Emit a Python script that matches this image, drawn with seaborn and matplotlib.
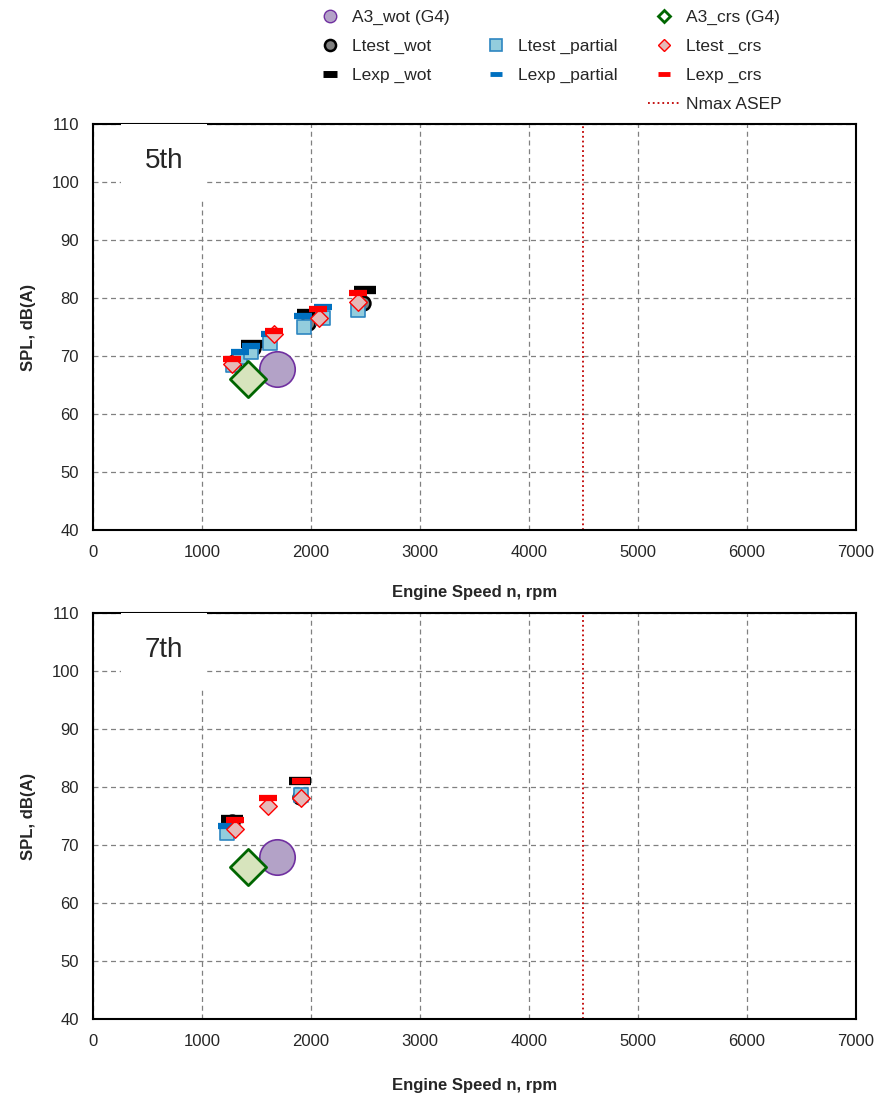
import numpy as np
import pandas as pd
import matplotlib.pyplot as plt
import seaborn as sns
from matplotlib.lines import Line2D

# 5th gear
g5_a3_wot = ([1690], [67.8])
g5_a3_crs = ([1420], [66.0])
g5_ltest_wot = ([1290, 1468, 1972, 2477], [69.0, 71.4, 75.7, 79.1])
g5_lexp_wot = ([1459, 1972, 2495], [72.1, 77.4, 81.4])
g5_ltest_partial = ([1284, 1349, 1450, 1624, 1936, 2110, 2431],
                    [68.4, 69.8, 70.7, 72.2, 75.0, 76.6, 78.0])
g5_lexp_partial = ([1349, 1450, 1624, 1927, 2110], [70.7, 71.7, 73.8, 76.9, 78.4])
g5_ltest_crs = ([1275, 1661, 2073, 2431], [68.6, 73.8, 76.6, 79.3])
g5_lexp_crs = ([1275, 1661, 2064, 2431], [69.5, 74.3, 78.1, 80.9])

# 7th gear
g7_a3_wot = ([1690], [67.9])
g7_a3_crs = ([1422], [66.2])
g7_ltest_wot = ([1272, 1899], [74.0, 78.3])
g7_lexp_wot = ([1272, 1899], [74.5, 81.1])
g7_ltest_partial = ([1229, 1905], [72.1, 78.6])
g7_lexp_partial = ([1226], [73.3])
g7_ltest_crs = ([1303, 1606, 1905], [72.8, 76.7, 78.1])
g7_lexp_crs = ([1303, 1606, 1905], [74.3, 78.1, 81.1])

nmax_asep = 4500
x_ticks = [0, 1000, 2000, 3000, 4000, 5000, 6000, 7000]
y_ticks = [40, 50, 60, 70, 80, 90, 100, 110]

sns.set_style('white')
plt.rcParams['font.family'] = ['Liberation Sans', 'DejaVu Sans']

# marker styles
sty = {
    'Ltest_wot': dict(marker='o', s=100, color='#7F7F7F', edgecolor='black', linewidth=1.8),
    'Lexp_wot': dict(marker='_', s=230, color='black', linewidth=6),
    'Ltest_partial': dict(marker='s', s=110, color='#93CDDD', edgecolor='#2E86C1', linewidth=1.2),
    'Lexp_partial': dict(marker='_', s=170, color='#0070C0', linewidth=4.5),
    'Ltest_crs': dict(marker='D', s=80, color='#E6B9B8', edgecolor='#FF0000', linewidth=1.0),
    'Lexp_crs': dict(marker='_', s=170, color='#FF0000', linewidth=4.5),
    'A3_wot': dict(marker='o', s=650, color='#B3A2C7', edgecolor='#7030A0', linewidth=1.2),
    'A3_crs': dict(marker='D', s=340, color='#D7E4BD', edgecolor='#006600', linewidth=2.0),
}

fig = plt.figure(figsize=(8.79, 10.99), dpi=100)
ax1 = fig.add_axes([0.1058, 0.5177, 0.868, 0.3695])
ax2 = fig.add_axes([0.1058, 0.0728, 0.868, 0.3695])


def draw(ax, series, label):
    for name, (xs, ys) in series:
        sns.scatterplot(x=xs, y=ys, ax=ax, zorder=3, **sty[name])
    ax.axvline(nmax_asep, color='#C00000', linestyle=':', linewidth=1.3, zorder=2)
    ax.set_xlim(0, 7000)
    ax.set_ylim(40, 110)
    ax.set_xticks(x_ticks)
    ax.set_yticks(y_ticks)
    ax.tick_params(labelsize=12, length=0)
    ax.tick_params(axis='x', pad=11)
    ax.tick_params(axis='y', pad=10)
    ax.grid(True, color='#808080', linestyle=(0, (4, 3)), linewidth=0.9)
    for sp in ax.spines.values():
        sp.set_color('black')
        sp.set_linewidth(1.5)
    ax.set_xlabel('Engine Speed n, rpm', fontsize=12, fontweight='bold')
    ax.set_ylabel('SPL, dB(A)', fontsize=12, fontweight='bold', labelpad=11)
    ax.text(650, 103.6, label, fontsize=20, ha='center', va='center', zorder=4,
            bbox=dict(fc='white', ec='none', pad=17))


draw(ax1, [('Ltest_wot', g5_ltest_wot), ('Lexp_wot', g5_lexp_wot),
           ('Ltest_partial', g5_ltest_partial), ('Lexp_partial', g5_lexp_partial),
           ('Ltest_crs', g5_ltest_crs), ('Lexp_crs', g5_lexp_crs),
           ('A3_wot', g5_a3_wot), ('A3_crs', g5_a3_crs)], '5th')
draw(ax2, [('Ltest_wot', g7_ltest_wot), ('Lexp_wot', g7_lexp_wot),
           ('Ltest_partial', g7_ltest_partial), ('Lexp_partial', g7_lexp_partial),
           ('Ltest_crs', g7_ltest_crs), ('Lexp_crs', g7_lexp_crs),
           ('A3_wot', g7_a3_wot), ('A3_crs', g7_a3_crs)], '7th')
ax1.xaxis.labelpad = 18
ax2.xaxis.labelpad = 21


def h(name, ms):
    st = sty[name]
    mew = st['linewidth'] if st['marker'] != '_' else (5 if name == 'Lexp_wot' else 3.5)
    return Line2D([], [], linestyle='none', marker=st['marker'], markersize=ms,
                  markerfacecolor=st['color'],
                  markeredgecolor=st.get('edgecolor', st['color']), markeredgewidth=mew)


blank = Line2D([], [], linestyle='none')
a3w = Line2D([], [], linestyle='none', marker='o', markersize=9,
             markerfacecolor='#B3A2C7', markeredgecolor='#7030A0')
a3c = Line2D([], [], linestyle='none', marker='D', markersize=6.5,
             markerfacecolor='white', markeredgecolor='#006600', markeredgewidth=2)
nmax = Line2D([], [], color='#C00000', linestyle=':', linewidth=1.3)

handles = [a3w, h('Ltest_wot', 8), h('Lexp_wot', 10), blank,
           blank, h('Ltest_partial', 8.5), h('Lexp_partial', 9), blank,
           a3c, h('Ltest_crs', 6.5), h('Lexp_crs', 9), nmax]
labels = ['A3_wot (G4)', 'Ltest _wot', 'Lexp _wot', '',
          '', 'Ltest _partial', 'Lexp _partial', '',
          'A3_crs (G4)', 'Ltest _crs', 'Lexp _crs', 'Nmax ASEP']
fig.legend(handles, labels, ncol=3, loc='upper left', bbox_to_anchor=(0.339, 1.005),
           frameon=False, fontsize=12.5, handlelength=1.85, columnspacing=1.75,
           labelspacing=0.78, handletextpad=0.35)

fig.savefig('out.png', dpi=100)
